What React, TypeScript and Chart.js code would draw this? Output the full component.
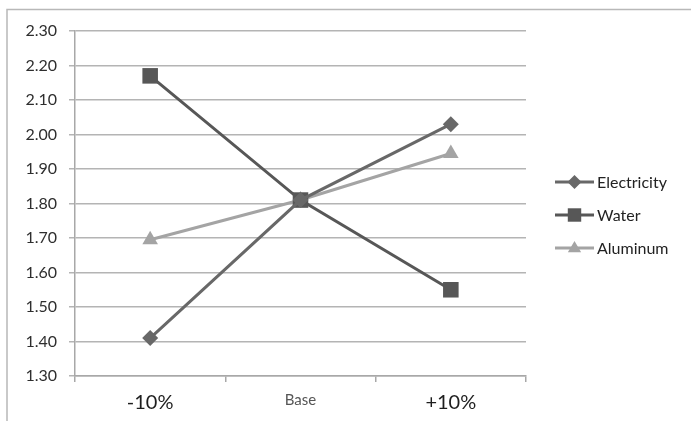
import React, { useEffect, useRef } from "react";
import { Chart, registerables } from "chart.js";

Chart.register(...registerables);

const categories = ["-10%", "Base", "+10%"];
const electricity = [1.41, 1.81, 2.03];
const water = [2.17, 1.81, 1.55];
const aluminum = [1.695, 1.81, 1.945];
const yTicks = [1.3, 1.4, 1.5, 1.6, 1.7, 1.8, 1.9, 2.0, 2.1, 2.2, 2.3];

const FONT = "Lato, 'Open Sans', sans-serif";

const framePlugin = {
  id: "frame",
  beforeDraw(chart: any) {
    const ctx = chart.ctx;
    ctx.save();
    ctx.strokeStyle = "#b8b8b8";
    ctx.lineWidth = 1.5;
    ctx.strokeRect(7, 9.5, 720, 500);
    ctx.restore();
  },
};

function drawMarker(ctx: any, style: string, r: number, x: number, y: number) {
  ctx.beginPath();
  if (style === "rect") {
    const s = Math.SQRT1_2 * r;
    ctx.rect(x - s, y - s, 2 * s, 2 * s);
  } else if (style === "rectRot") {
    ctx.moveTo(x - r, y);
    ctx.lineTo(x, y - r);
    ctx.lineTo(x + r, y);
    ctx.lineTo(x, y + r);
    ctx.closePath();
  } else {
    ctx.moveTo(x, y - r);
    ctx.lineTo(x + r * 0.95, y + r * 0.6);
    ctx.lineTo(x - r * 0.95, y + r * 0.6);
    ctx.closePath();
  }
  ctx.fill();
}

const legendPlugin = {
  id: "customLegend",
  afterDraw(chart: any) {
    const ctx = chart.ctx;
    ctx.save();
    const x0 = 555;
    const x1 = 594;
    const ys = [182, 215, 248];
    chart.data.datasets.forEach((ds: any, i: number) => {
      const y = ys[i];
      ctx.strokeStyle = ds.borderColor;
      ctx.lineWidth = 3;
      ctx.beginPath();
      ctx.moveTo(x0, y);
      ctx.lineTo(x1, y);
      ctx.stroke();
      ctx.fillStyle = ds.backgroundColor;
      const style = ds.pointStyle;
      const r = style === "rect" ? 9.5 : 7;
      drawMarker(ctx, style, r, (x0 + x1) / 2, y);
      ctx.fillStyle = "#222222";
      ctx.font = "16px " + FONT;
      ctx.textBaseline = "middle";
      ctx.textAlign = "left";
      ctx.fillText(ds.label, 597, y + 1);
    });
    ctx.restore();
  },
};

export default function App() {
  const ref = useRef<HTMLCanvasElement>(null);
  useEffect(() => {
    if (!ref.current) return;
    const chart = new Chart(ref.current, {
      type: "line",
      data: {
        labels: categories,
        datasets: [
          {
            label: "Electricity",
            data: electricity,
            borderColor: "#686868",
            backgroundColor: "#686868",
            borderWidth: 3,
            pointStyle: "rectRot",
            pointRadius: 8,
            pointBorderWidth: 0,
          },
          {
            label: "Water",
            data: water,
            borderColor: "#575757",
            backgroundColor: "#575757",
            borderWidth: 3,
            pointStyle: "rect",
            pointRadius: 11,
            pointBorderWidth: 0,
          },
          {
            label: "Aluminum",
            data: aluminum,
            borderColor: "#a4a4a4",
            backgroundColor: "#a4a4a4",
            borderWidth: 3,
            pointStyle: "triangle",
            pointRadius: 9,
            pointBorderWidth: 0,
          },
        ],
      },
      options: {
        animation: false,
        responsive: false,
        devicePixelRatio: 1,
        layout: { padding: { left: 0, top: 31, right: 165, bottom: 0 } },
        plugins: {
          legend: { display: false },
          tooltip: { enabled: false },
        },
        scales: {
          x: {
            type: "category",
            offset: true,
            grid: {
              offset: true,
              drawOnChartArea: false,
              drawTicks: true,
              tickLength: 6,
              color: "#a8a8a8",
              lineWidth: 1.5,
            },
            border: { color: "#a8a8a8", width: 1.5 },
            ticks: {
              padding: 9,
              color: (c: any) => (c.index === 1 ? "#555555" : "#1e1e1e"),
              font: (c: any) => ({
                family: FONT,
                size: c.index === 1 ? 15 : 20,
              }),
            },
            afterFit: (s: any) => {
              s.height = 45;
            },
          },
          y: {
            min: 1.3,
            max: 2.3,
            afterBuildTicks: (s: any) => {
              s.ticks = yTicks.map((v) => ({ value: v }));
            },
            grid: {
              color: "#b4b4b4",
              lineWidth: 1.5,
              tickLength: 6,
            },
            border: { color: "#a8a8a8", width: 1.5 },
            ticks: {
              padding: 12,
              color: "#2e2e2e",
              font: { family: FONT, size: 16 },
              callback: (v: any) => Number(v).toFixed(2),
            },
            afterFit: (s: any) => {
              s.width = 75;
            },
          },
        },
      },
      plugins: [framePlugin, legendPlugin],
    });
    return () => chart.destroy();
  }, []);
  return (
    <div style={{ position: "absolute", left: 0, top: 0, width: 691, height: 421, background: "#fff" }}>
      <canvas ref={ref} width={691} height={421} style={{ width: 691, height: 421 }} />
    </div>
  );
}
